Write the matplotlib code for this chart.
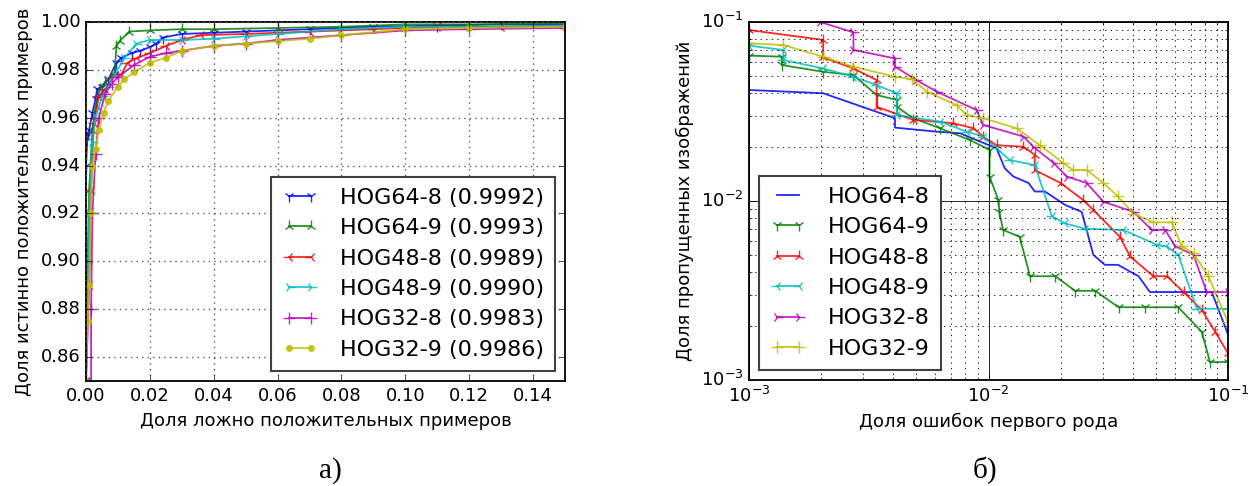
import numpy as np
import matplotlib
matplotlib.use('Agg')
import matplotlib.pyplot as plt

# ROC curves (left panel)
names = ['HOG64-8', 'HOG64-9', 'HOG48-8', 'HOG48-9', 'HOG32-8', 'HOG32-9']
auc = [0.9992, 0.9993, 0.9989, 0.9990, 0.9983, 0.9986]
colors = ['b', 'g', 'r', 'c', 'm', 'y']

roc_fpr = [
    [0, 0, 0.0005, 0.001, 0.002, 0.003, 0.0035, 0.005, 0.007, 0.0095, 0.011, 0.0143,
     0.017, 0.02, 0.022, 0.024, 0.03, 0.04, 0.05, 0.07, 0.09, 0.11, 0.13, 0.15],
    [0, 0.0005, 0.001, 0.002, 0.003, 0.0044, 0.006, 0.009, 0.0095, 0.0105, 0.0135,
     0.02, 0.03, 0.04, 0.06, 0.08, 0.1, 0.12, 0.15],
    [0, 0.001, 0.0015, 0.0025, 0.004, 0.006, 0.009, 0.011, 0.013, 0.016, 0.02, 0.025,
     0.03, 0.036, 0.05, 0.07, 0.09, 0.11, 0.13, 0.15],
    [0, 0.001, 0.002, 0.003, 0.005, 0.007, 0.009, 0.012, 0.0158, 0.02, 0.03, 0.04,
     0.05, 0.06, 0.08, 0.1, 0.12, 0.15],
    [0.0016, 0.0016, 0.002, 0.003, 0.004, 0.006, 0.008, 0.01, 0.015, 0.02, 0.025,
     0.03, 0.04, 0.05, 0.06, 0.08, 0.1, 0.12, 0.15],
    [0, 0.0005, 0.001, 0.0015, 0.002, 0.003, 0.004, 0.0055, 0.007, 0.01, 0.012, 0.015,
     0.02, 0.025, 0.03, 0.04, 0.05, 0.06, 0.07, 0.08, 0.1, 0.12, 0.15],
]
roc_tpr = [
    [0.85, 0.94, 0.953, 0.955, 0.962, 0.968, 0.972, 0.973, 0.976, 0.983, 0.985, 0.987,
     0.988, 0.9895, 0.991, 0.9935, 0.995, 0.9955, 0.996, 0.997, 0.998, 0.9985, 0.999, 0.999],
    [0.85, 0.90, 0.93, 0.955, 0.965, 0.972, 0.975, 0.979, 0.990, 0.992, 0.996,
     0.9965, 0.997, 0.997, 0.9975, 0.998, 0.999, 0.999, 0.9995],
    [0.85, 0.89, 0.93, 0.958, 0.969, 0.972, 0.978, 0.978, 0.983, 0.985, 0.987, 0.990,
     0.9925, 0.9945, 0.995, 0.996, 0.997, 0.998, 0.998, 0.9985],
    [0.85, 0.92, 0.95, 0.96, 0.969, 0.973, 0.978, 0.985, 0.991, 0.9925, 0.9925, 0.993,
     0.994, 0.995, 0.997, 0.998, 0.998, 0.9985],
    [0.84, 0.88, 0.92, 0.945, 0.96, 0.970, 0.974, 0.977, 0.982, 0.9855, 0.987,
     0.988, 0.990, 0.991, 0.9925, 0.9945, 0.9965, 0.997, 0.9975],
    [0.85, 0.875, 0.89, 0.92, 0.94, 0.947, 0.955, 0.962, 0.967, 0.973, 0.976, 0.979,
     0.983, 0.985, 0.988, 0.990, 0.991, 0.992, 0.993, 0.9945, 0.997, 0.9975, 0.998],
]

# DET curves (right panel): false positive rate vs miss rate
det_fp = [
    [0.001, 0.00204, 0.00407, 0.00407, 0.00608, 0.0076, 0.0108, 0.0117, 0.0127, 0.0147,
     0.0156, 0.0172, 0.0209, 0.0245, 0.0274, 0.0306, 0.0347, 0.0423, 0.0472, 0.0855, 0.1],
    [0.001, 0.00137, 0.00137, 0.00204, 0.00273, 0.00341, 0.00414, 0.00414, 0.00485,
     0.00627, 0.00837, 0.0101, 0.0101, 0.011, 0.0111, 0.0115, 0.0135, 0.0149, 0.019,
     0.023, 0.0279, 0.0349, 0.045, 0.062, 0.0777, 0.0841, 0.1],
    [0.001, 0.00204, 0.00204, 0.00273, 0.00341, 0.00341, 0.00485, 0.00713, 0.00865,
     0.0095, 0.0108, 0.014, 0.0156, 0.0156, 0.02, 0.0249, 0.0274, 0.0354, 0.039, 0.0488,
     0.0555, 0.0652, 0.0777, 0.0884, 0.1],
    [0.001, 0.00139, 0.00139, 0.00204, 0.00273, 0.00341, 0.00414, 0.00414, 0.00627,
     0.0081, 0.0095, 0.0108, 0.0123, 0.0156, 0.0184, 0.0209, 0.0253, 0.0365, 0.0504,
     0.0553, 0.062, 0.0741, 0.1],
    [0.00198, 0.00273, 0.00273, 0.00407, 0.00407, 0.005, 0.00608, 0.00893, 0.0095,
     0.014, 0.0154, 0.0187, 0.0212, 0.0257, 0.0302, 0.0403, 0.048, 0.0546, 0.0601,
     0.0718, 0.0815, 0.1],
    [0.001, 0.00139, 0.00204, 0.00273, 0.00407, 0.00478, 0.00553, 0.00737, 0.0081,
     0.0095, 0.0131, 0.0164, 0.0205, 0.0226, 0.0257, 0.0302, 0.0347, 0.0403, 0.0488,
     0.0582, 0.0641, 0.0718, 0.0828, 0.1],
]
det_miss = [
    [0.0417, 0.040, 0.029, 0.0257, 0.0244, 0.0239, 0.0197, 0.0152, 0.0137, 0.0126,
     0.0113, 0.0113, 0.0095, 0.0087, 0.005, 0.0044, 0.0044, 0.0038, 0.0031, 0.0031, 0.0018],
    [0.0649, 0.064, 0.0575, 0.0527, 0.0505, 0.0391, 0.0367, 0.0336, 0.029, 0.0255,
     0.0219, 0.0193, 0.0137, 0.0101, 0.0087, 0.0069, 0.0063, 0.0038, 0.0038, 0.00315,
     0.00315, 0.00255, 0.00255, 0.00255, 0.00186, 0.00126, 0.00126],
    [0.0902, 0.0794, 0.0635, 0.055, 0.0474, 0.0336, 0.0284, 0.0272, 0.0255, 0.0229,
     0.0205, 0.0201, 0.0181, 0.0149, 0.0126, 0.0101, 0.0089, 0.0063, 0.0049, 0.0038,
     0.0038, 0.0031, 0.00246, 0.00186, 0.00141],
    [0.0738, 0.0698, 0.0614, 0.055, 0.0495, 0.0444, 0.040, 0.0302, 0.0278, 0.0244,
     0.0229, 0.0197, 0.0169, 0.0159, 0.0082, 0.0075, 0.0070, 0.0069, 0.0057, 0.0056,
     0.005, 0.0025, 0.0025],
    [0.1, 0.0875, 0.0698, 0.0626, 0.0563, 0.0474, 0.0408, 0.0322, 0.0266, 0.0229,
     0.0201, 0.0163, 0.0137, 0.0126, 0.0099, 0.0087, 0.0069, 0.0069, 0.0056, 0.005,
     0.0031, 0.0031],
    [0.076, 0.0744, 0.064, 0.0563, 0.0495, 0.0481, 0.0408, 0.0343, 0.0302, 0.029,
     0.0255, 0.0205, 0.0163, 0.0149, 0.0149, 0.0126, 0.0106, 0.0085, 0.0076, 0.0076,
     0.0056, 0.0051, 0.0038, 0.0021],
]

roc_markers = ['1', '2', '3', '4', '+', 'o']
det_markers = [None, '1', '2', '3', '4', '+']

plt.style.use('classic')
plt.rcParams['font.family'] = ['DejaVu Sans']

fig = plt.figure(figsize=(12.52, 4.86), dpi=100, facecolor='white')
W, H = 1252.0, 486.0
ax1 = fig.add_axes([86 / W, 1 - 381 / H, 479 / W, 359 / H])
ax2 = fig.add_axes([749 / W, 1 - 380 / H, 479 / W, 358 / H])

leg_kw = dict(fontsize=16, labelspacing=0.47, handlelength=1.6,
              handletextpad=1.0, borderpad=0.5, borderaxespad=0.45, fancybox=False)

for i in range(len(names)):
    ms = 4 if roc_markers[i] == 'o' else 8
    ax1.plot(roc_fpr[i], roc_tpr[i], color=colors[i], marker=roc_markers[i],
             ms=ms, mec=colors[i], mew=1, lw=1.3, alpha=0.85,
             label='{} ({:.4f})'.format(names[i], auc[i]))

ax1.set_xlim(0, 0.15)
ax1.set_ylim(0.85, 1.0)
ax1.set_xticks(np.arange(0, 0.141, 0.02))
ax1.set_yticks(np.arange(0.86, 1.001, 0.02))
ax1.grid(True, color='0.35', ls=':', lw=1)
ax1.tick_params(labelsize=13)
ax1.set_xlabel('Доля ложно положительных примеров', fontsize=13)
ax1.set_ylabel('Доля истинно положительных примеров', fontsize=13)
leg1 = ax1.legend(loc='lower right', **leg_kw)
leg1.get_frame().set_edgecolor('0.25')
leg1.get_frame().set_linewidth(1.5)

for i in range(len(names)):
    ax2.plot(det_fp[i], det_miss[i], color=colors[i], marker=det_markers[i],
             ms=8, mec=colors[i], mew=1, lw=1.3, alpha=0.85, label=names[i])

ax2.set_xscale('log')
ax2.set_yscale('log')
ax2.set_xlim(1e-3, 1e-1)
ax2.set_ylim(1e-3, 1e-1)
ax2.grid(True, which='major', color='k', ls='-', lw=0.6)
ax2.grid(True, which='minor', color='k', ls=':', lw=0.6)
ax2.tick_params(labelsize=13)
ax2.set_xlabel('Доля ошибок первого рода', fontsize=13)
ax2.set_ylabel('Доля пропущенных изображений', fontsize=13)
leg2 = ax2.legend(loc='lower left', **leg_kw)
leg2.get_frame().set_edgecolor('0.25')
leg2.get_frame().set_linewidth(1.5)

for a in (ax1, ax2):
    for s in a.spines.values():
        s.set_linewidth(1.3)

fig.text(330 / W, 1 - 478 / H, 'а)', family='Liberation Serif', fontsize=21,
         ha='center', va='baseline')
fig.text(985 / W, 1 - 478 / H, 'б)', family='Liberation Serif', fontsize=21,
         ha='center', va='baseline')

fig.savefig('out.png', dpi=100, facecolor='white')
